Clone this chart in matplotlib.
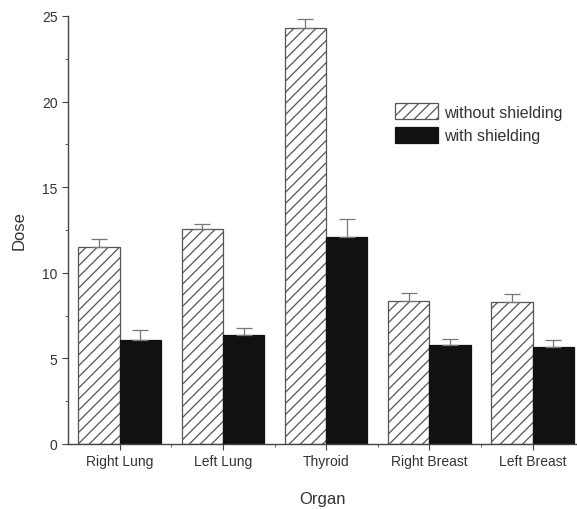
import numpy as np
import matplotlib.pyplot as plt
import matplotlib as mpl

mpl.rcParams['font.family'] = ['Liberation Sans', 'DejaVu Sans']
mpl.rcParams['hatch.color'] = '#555555'
mpl.rcParams['hatch.linewidth'] = 0.9

organs = ["Right Lung", "Left Lung", "Thyroid", "Right Breast", "Left Breast"]
without_shielding = [11.5, 12.55, 24.3, 8.35, 8.3]
without_err = [0.45, 0.3, 0.55, 0.45, 0.45]
with_shielding = [6.1, 6.35, 12.1, 5.8, 5.65]
with_err = [0.55, 0.4, 1.05, 0.35, 0.45]

x = np.arange(len(organs))
width = 0.4

fig = plt.figure(figsize=(5.77, 5.10), dpi=100)
ax = fig.add_axes([68 / 577, 65 / 510, 1 - 68 / 577, 428 / 510])

ax.bar(x - width / 2, without_shielding, width, color='white', edgecolor='#555555',
       hatch='///', linewidth=0.9, label='without shielding',
       yerr=[np.zeros(len(x)), without_err],
       error_kw=dict(ecolor='#777777', capsize=6, elinewidth=0.9, capthick=0.9))
ax.bar(x + width / 2, with_shielding, width, color='#111111', edgecolor='#111111',
       linewidth=0.9, label='with shielding',
       yerr=[np.zeros(len(x)), with_err],
       error_kw=dict(ecolor='#777777', capsize=6, elinewidth=0.9, capthick=0.9))

ax.set_xlim(-0.5, -0.5 + (577 - 68) / 103.25)
ax.set_ylim(0, 25)
ax.set_yticks([0, 5, 10, 15, 20, 25])
ax.set_yticks(np.arange(2.5, 25, 5), minor=True)
ax.set_xticks(x)
ax.set_xticklabels(organs)
ax.set_xticks(x[:-1] + 0.5, minor=True)

for s in ['top', 'right']:
    ax.spines[s].set_visible(False)
for s in ['left', 'bottom']:
    ax.spines[s].set_color('#444444')
    ax.spines[s].set_linewidth(1.0)

ax.tick_params(axis='both', which='major', direction='out', length=4, color='#444444',
               labelsize=10, labelcolor='#333333')
ax.tick_params(axis='both', which='minor', direction='out', length=2.5, color='#444444')

ax.set_xlabel('Organ', fontsize=12, color='#333333', labelpad=16)
ax.set_ylabel('Dose', fontsize=12, color='#333333', labelpad=11)

ax.legend(loc='upper left', bbox_to_anchor=((395 - 68) / 509, (445 - 104) / 428),
          frameon=False, borderpad=0, borderaxespad=0,
          fontsize=11.5, handlelength=2.7, handleheight=1.2, handletextpad=0.4,
          labelspacing=0.45, labelcolor='#333333')

fig.savefig('out.png', dpi=100)
